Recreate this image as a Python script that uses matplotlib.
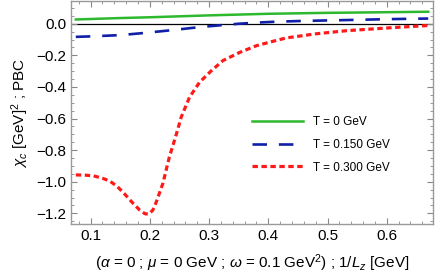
import numpy as np
import matplotlib.pyplot as plt
from matplotlib.ticker import MultipleLocator, FuncFormatter

plt.rcParams['font.family'] = ['Liberation Sans', 'DejaVu Sans']
plt.rcParams['mathtext.fontset'] = 'custom'
plt.rcParams['mathtext.rm'] = 'Liberation Sans'
plt.rcParams['mathtext.it'] = 'Liberation Sans:italic'

# 1/Lz [GeV] and chi_c values
x_t0 = [0.075, 0.1, 0.15, 0.2, 0.25, 0.3, 0.35, 0.4, 0.45, 0.5, 0.55, 0.6, 0.67]
y_t0 = [0.027, 0.030, 0.036, 0.041, 0.047, 0.053, 0.058, 0.063, 0.066, 0.069, 0.071, 0.073, 0.076]

x_t150 = [0.075, 0.1, 0.15, 0.183, 0.21, 0.239, 0.27, 0.3, 0.324, 0.35, 0.38, 0.408,
          0.45, 0.5, 0.554, 0.6, 0.67]
y_t150 = [-0.083, -0.080, -0.072, -0.061, -0.051, -0.040, -0.027, -0.016, -0.008, 0.000,
          0.007, 0.012, 0.017, 0.021, 0.025, 0.029, 0.033]

x_t300 = [0.075, 0.09, 0.105, 0.12, 0.132, 0.145, 0.158, 0.17, 0.183, 0.192, 0.198,
          0.205, 0.211, 0.222, 0.233, 0.245, 0.253, 0.267, 0.284, 0.304, 0.3235,
          0.352, 0.38, 0.408, 0.43, 0.48, 0.532, 0.6, 0.661, 0.67]
y_t300 = [-0.957, -0.958, -0.963, -0.978, -0.995, -1.03, -1.08, -1.13, -1.18, -1.203, -1.205,
          -1.18, -1.127, -1.011, -0.843, -0.696, -0.591, -0.465, -0.370, -0.297, -0.233,
          -0.181, -0.139, -0.111, -0.090, -0.064, -0.044, -0.027, -0.013, -0.011]

labels = ["T = 0 GeV", "T = 0.150 GeV", "T = 0.300 GeV"]

fig = plt.figure(figsize=(4.36, 2.78), dpi=100)
ax = fig.add_axes([0.163, 0.194, 0.83, 0.803])

ax.axhline(0, color="black", lw=0.9, zorder=1)
ax.plot(x_t0, y_t0, color="#2db82d", lw=1.8, label=labels[0])
ax.plot(x_t150, y_t150, color="#0f1fa8", lw=1.9, dashes=(5.5, 4.5), label=labels[1])
ax.plot(x_t300, y_t300, color="#ff1a1a", lw=2.3, dashes=(1.7, 1.1), label=labels[2])

ax.set_xlim(0.067, 0.678)
ax.set_ylim(-1.268, 0.145)

ax.xaxis.set_major_locator(MultipleLocator(0.1))
ax.xaxis.set_minor_locator(MultipleLocator(0.02))
ax.yaxis.set_major_locator(MultipleLocator(0.2))
ax.yaxis.set_minor_locator(MultipleLocator(0.05))
ax.yaxis.set_major_formatter(FuncFormatter(lambda v, p: f"{v:.1f}".replace("-", "\u2212")))

ax.tick_params(which="both", direction="in", top=True, right=True, colors="#888888",
               labelcolor="black", labelsize=11)
ax.tick_params(which="major", length=4, width=0.8)
ax.tick_params(which="minor", length=2, width=0.6)
for s in ax.spines.values():
    s.set_color("#999999")
    s.set_linewidth(1.0)

ax.set_xlabel(r"($\alpha$ = 0 ; $\mu$ = 0 GeV ; $\omega$ = 0.1 GeV$^2$) ; 1/$L_z$ [GeV]",
              fontsize=11, labelpad=7)
ax.set_ylabel(r"$\chi_c$ [GeV]$^2$ ; PBC", fontsize=11, labelpad=4)

ax.legend(loc="upper left", bbox_to_anchor=(0.47, 0.53), frameon=False, fontsize=8.5,
          handlelength=4.3, handletextpad=0.9, labelspacing=0.9)

fig.savefig("out.png", dpi=100)
